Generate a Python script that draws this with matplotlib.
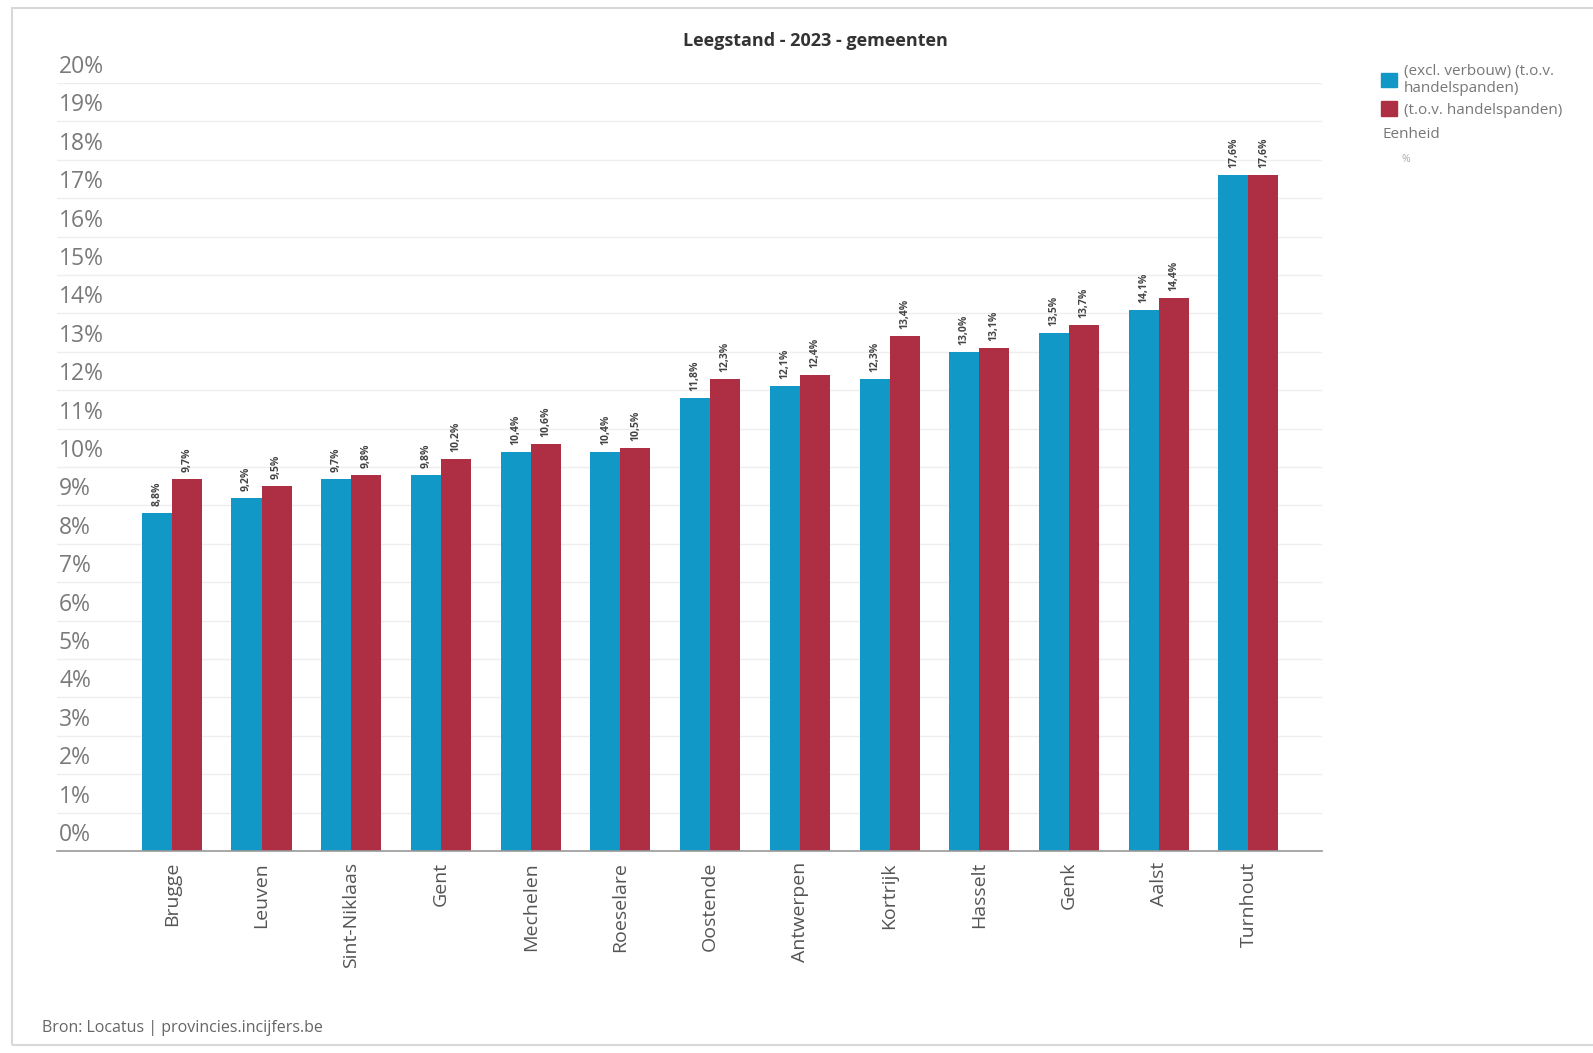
import matplotlib
matplotlib.use('Agg')
import matplotlib.pyplot as plt
from matplotlib.patches import Rectangle, Patch
from matplotlib.transforms import offset_copy
import numpy as np

gemeenten = ['Brugge', 'Leuven', 'Sint-Niklaas', 'Gent', 'Mechelen', 'Roeselare',
             'Oostende', 'Antwerpen', 'Kortrijk', 'Hasselt', 'Genk', 'Aalst', 'Turnhout']
excl_verbouw = [8.8, 9.2, 9.7, 9.8, 10.4, 10.4, 11.8, 12.1, 12.3, 13.0, 13.5, 14.1, 17.6]
tov_handel = [9.7, 9.5, 9.8, 10.2, 10.6, 10.5, 12.3, 12.4, 13.4, 13.1, 13.7, 14.4, 17.6]
y_ticks = list(range(0, 21))

labels = ['(excl. verbouw) (t.o.v.\nhandelspanden)', '(t.o.v. handelspanden)']
colors = ['#1198c6', '#ae2f44']

plt.rcParams['font.family'] = ['Open Sans', 'DejaVu Sans']


def main():
    fig = plt.figure(figsize=(15.93, 10.53), dpi=100)
    W, H = 1593, 1053

    # light frame round the whole widget
    fig.patches.append(Rectangle((12 / W, 1 - 1045 / H), 1.0, (1045 - 8) / H,
                                 transform=fig.transFigure, fill=False,
                                 edgecolor='#d8d8d8', lw=1.5))

    ax = fig.add_axes([57 / W, 1 - 851 / H, (1322 - 57) / W, (851 - 83) / H])

    x = np.arange(len(gemeenten))
    w = 0.335
    b1 = ax.bar(x - w / 2, excl_verbouw, w, color=colors[0], zorder=2)
    b2 = ax.bar(x + w / 2, tov_handel, w, color=colors[1], zorder=2)

    # value labels, rotated
    for bars, vals in ((b1, excl_verbouw), (b2, tov_handel)):
        for rect, v in zip(bars, vals):
            ax.annotate(f'{v:.1f}%'.replace('.', ','),
                        (rect.get_x() + rect.get_width() / 2, v),
                        xytext=(0, 5), textcoords='offset points',
                        rotation=90, ha='center', va='bottom',
                        fontsize=7.5, fontweight='bold', color='#444444')

    ax.set_xlim(-1.28, 12.82)
    ax.set_ylim(0, 20)
    ax.set_yticks(y_ticks)
    ax.tick_params(axis='y', left=False, labelleft=False)
    ax.grid(axis='y', color='#eeeeee', lw=1, zorder=0)

    # y labels sit on top of their grid line
    tr = offset_copy(ax.get_yaxis_transform(), fig=fig, x=2, y=4, units='dots')
    for t in y_ticks:
        ax.text(0, t, f'{t}%', transform=tr, ha='left', va='bottom',
                fontsize=16.5, color='#7a7a7a', clip_on=False)

    ax.set_xticks(x)
    ax.set_xticklabels(gemeenten, rotation=90, fontsize=14, color='#555555')
    ax.tick_params(axis='x', length=0, pad=8)

    for s in ('top', 'right', 'left'):
        ax.spines[s].set_visible(False)
    ax.spines['bottom'].set_color('#999999')
    ax.spines['bottom'].set_linewidth(1.2)

    fig.text(815 / W, 1 - 41 / H, 'Leegstand - 2023 - gemeenten', ha='center',
             va='center', fontsize=13, fontweight='bold', color='#333333')

    handles = [Patch(color=c) for c in colors]
    fig.legend(handles, labels, loc='upper left', bbox_to_anchor=(1373 / W, 1 - 56 / H),
               frameon=False, fontsize=11, labelcolor='#777777', handlelength=1.1,
               handleheight=1.1, handletextpad=0.4, labelspacing=0.35, borderpad=0)
    fig.text(1383 / W, 1 - 134 / H, 'Eenheid', ha='left', va='center',
             fontsize=11, color='#777777')
    fig.text(1402 / W, 1 - 160 / H, '%', ha='left', va='center',
             fontsize=7.5, color='#aaaaaa')

    fig.text(42 / W, 1 - 1028 / H, 'Bron: Locatus | provincies.incijfers.be', ha='left',
             va='center', fontsize=11.5, color='#666666')

    fig.savefig('out.png', dpi=100, facecolor='white')


if __name__ == '__main__':
    main()
